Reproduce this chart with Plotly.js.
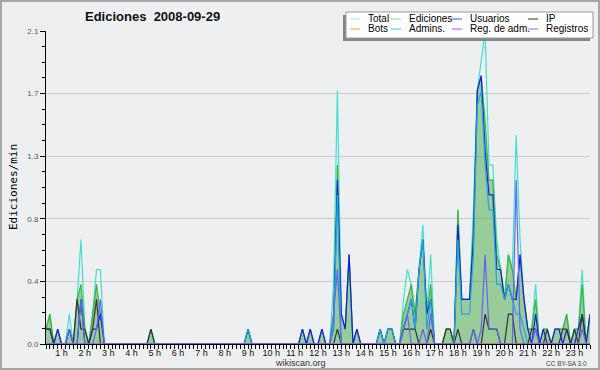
<!DOCTYPE html>
<html>
<head>
<meta charset="utf-8">
<script src="https://cdn.plot.ly/plotly-3.0.1.min.js"></script>
<style>
  html, body { margin: 0; padding: 0; background: #eeeff1; }
  #wrap { position: relative; width: 600px; height: 370px; overflow: hidden; }
  #chart { position: absolute; left: 0; top: 0; width: 600px; height: 370px; }
  #frame { position: absolute; left: 0; top: 0; width: 600px; height: 370px; box-sizing: border-box; border: 2px solid #a6a6a6; pointer-events: none; }
</style>
</head>
<body>
<div id="wrap"><div id="chart"></div><div id="frame"></div></div>
<script>
// ---- time axis (minutes of the day, 10-minute bins) ----
const minutes = [
  20,30,40,50,
  60,70,80,90,100,110,
  120,130,140,150,160,170,
  180,190,200,210,220,230,
  240,250,260,270,280,290,
  300,310,320,330,340,350,
  360,370,380,390,400,410,
  420,430,440,450,460,470,
  480,490,500,510,520,530,
  540,550,560,570,580,590,
  600,610,620,630,640,650,
  660,670,680,690,700,710,
  720,730,740,750,760,770,
  780,790,800,810,820,830,
  840,850,860,870,880,890,
  900,910,920,930,940,950,
  960,970,980,990,1000,1010,
  1020,1030,1040,1050,1060,1070,
  1080,1090,1100,1110,1120,1130,
  1140,1150,1160,1170,1180,1190,
  1200,1210,1220,1230,1240,1250,
  1260,1270,1280,1290,1300,1310,
  1320,1330,1340,1350,1360,1370,
  1380,1390,1400,1410,1420
];

// ---- series values (edits per minute) ----
const total = [
  .1,.2,0,.1,
  0,0,.2,0,.3,.7,
  .1,0,.2,.5,.5,0,
  0,0,0,0,0,0,
  0,0,0,0,0,.1,
  0,0,0,0,0,0,
  0,0,0,0,0,0,
  0,0,0,0,0,0,
  0,0,0,0,0,0,
  .1,0,0,0,0,0,
  0,0,0,0,0,0,
  0,0,.1,0,.1,0,
  0,.1,0,0,.4,1.7,
  .2,.1,.6,0,.1,0,
  0,0,0,0,.1,0,
  .1,.1,0,0,.3,.5,
  .4,.2,.5,.8,.2,.6,
  0,0,0,.1,.1,0,
  .9,.3,.3,.3,.9,1.7,
  1.9,2.1,1.2,1.2,.7,.5,
  .3,.6,.5,1.4,.7,.3,
  .1,.1,.4,0,.1,.1,
  0,.1,.1,.1,.2,0,
  .1,.1,.5,0,.2
];
const ediciones = [
  .1,.2,0,.1,
  0,0,.1,0,.3,.4,
  .1,0,.2,.4,.2,0,
  0,0,0,0,0,0,
  0,0,0,0,0,.1,
  0,0,0,0,0,0,
  0,0,0,0,0,0,
  0,0,0,0,0,0,
  0,0,0,0,0,0,
  .1,0,0,0,0,0,
  0,0,0,0,0,0,
  0,0,.1,0,.1,0,
  0,.1,0,0,.2,1.2,
  .2,.1,.6,0,.1,0,
  0,0,0,0,.1,0,
  .1,.1,0,0,.2,.3,
  .4,.2,.5,.7,.2,.4,
  0,0,0,.1,.1,0,
  .9,.3,.3,.3,.8,1.7,
  1.8,1.5,1.1,1.1,.6,.5,
  .3,.6,.5,.3,.6,.3,
  .1,.1,.3,0,.1,.1,
  0,.1,.1,.1,.2,0,
  .1,.1,.4,0,.2
];
const usuarios = [
  .1,.1,0,.1,
  0,0,.1,0,0,.3,
  0,0,.1,.1,.2,0,
  0,0,0,0,0,0,
  0,0,0,0,0,0,
  0,0,0,0,0,0,
  0,0,0,0,0,0,
  0,0,0,0,0,0,
  0,0,0,0,0,0,
  .1,0,0,0,0,0,
  0,0,0,0,0,0,
  0,0,.1,0,.1,0,
  0,.1,0,0,.1,1.1,
  .2,.1,.6,0,.1,0,
  0,0,0,0,.1,0,
  .1,.1,0,0,.1,.2,
  .3,.1,.5,.7,.2,.3,
  0,0,0,0,0,0,
  .8,.3,.3,.3,.7,1.7,
  1.8,1.3,1.0,1.0,.5,.5,
  .3,.4,.3,.3,.6,.3,
  .1,0,.2,0,.1,0,
  0,.1,.1,0,.1,0,
  0,.1,.2,0,.2
];
const ip = [
  .1,.1,0,0,
  0,0,0,0,.3,.1,
  .1,0,.1,.3,0,0,
  0,0,0,0,0,0,
  0,0,0,0,0,.1,
  0,0,0,0,0,0,
  0,0,0,0,0,0,
  0,0,0,0,0,0,
  0,0,0,0,0,0,
  0,0,0,0,0,0,
  0,0,0,0,0,0,
  0,0,0,0,0,0,
  0,0,0,0,0,.1,
  0,0,0,0,0,0,
  0,0,0,0,0,0,
  0,0,0,0,.1,.1,
  .1,.1,0,0,0,.1,
  0,0,0,.1,.1,0,
  .1,0,0,0,.1,0,
  0,.2,.1,.1,.1,0,
  0,.2,.2,0,0,0,
  0,.1,.1,0,0,.1,
  0,0,0,.1,.1,0,
  .1,0,.2,0,0
];
const bots = [
  0,0,0,0,
  0,0,0,0,0,0,
  0,0,0,0,0,0,
  0,0,0,0,0,0,
  0,0,0,0,0,0,
  0,0,0,0,0,0,
  0,0,0,0,0,0,
  0,0,0,0,0,0,
  0,0,0,0,0,0,
  0,0,0,0,0,0,
  0,0,0,0,0,0,
  0,0,0,0,0,0,
  0,0,0,0,0,0,
  0,0,0,0,0,0,
  0,0,0,0,0,0,
  0,0,0,0,0,0,
  0,0,0,0,0,0,
  0,0,0,0,0,0,
  0,0,0,0,0,0,
  0,0,0,0,0,0,
  0,0,0,0,0,0,
  0,0,0,0,0,0,
  0,0,0,0,0,0,
  0,0,0,0,0
];
const admins = [
  0,0,0,0,
  0,0,0,0,0,0,
  0,0,0,0,0,0,
  0,0,0,0,0,0,
  0,0,0,0,0,0,
  0,0,0,0,0,0,
  0,0,0,0,0,0,
  0,0,0,0,0,0,
  0,0,0,0,0,0,
  .1,0,0,0,0,0,
  0,0,0,0,0,0,
  0,0,0,0,0,0,
  0,0,0,0,.1,1.0,
  0,0,0,0,0,0,
  0,0,0,0,.1,0,
  .1,.1,0,0,.1,.2,
  .3,.1,.5,.7,.1,.3,
  0,0,0,0,0,0,
  .7,.2,.2,.2,.6,1.6,
  1.7,1.2,.9,.9,.4,.4,
  .3,.4,.3,.2,.2,.1,
  0,0,0,0,0,0,
  0,0,0,0,0,0,
  0,0,0,0,0
];
const regAdm = [
  0,0,0,0,
  0,0,0,0,0,0,
  0,0,0,0,0,0,
  0,0,0,0,0,0,
  0,0,0,0,0,0,
  0,0,0,0,0,0,
  0,0,0,0,0,0,
  0,0,0,0,0,0,
  0,0,0,0,0,0,
  0,0,0,0,0,0,
  0,0,0,0,0,0,
  0,0,0,0,0,0,
  0,0,0,0,0,0,
  0,0,0,0,0,0,
  0,0,0,0,0,0,
  0,0,0,0,0,0,
  0,0,0,0,0,0,
  0,0,0,0,0,0,
  0,0,0,0,0,0,
  0,0,0,0,0,0,
  0,0,0,0,0,0,
  0,0,0,0,0,0,
  0,0,0,0,0,0,
  0,0,0,0,0
];
const registros = [
  0,0,0,0,
  0,0,.1,0,0,.3,
  0,0,0,.1,.3,0,
  0,0,0,0,0,0,
  0,0,0,0,0,0,
  0,0,0,0,0,0,
  0,0,0,0,0,0,
  0,0,0,0,0,0,
  0,0,0,0,0,0,
  0,0,0,0,0,0,
  0,0,0,0,0,0,
  0,0,0,0,0,0,
  0,0,0,0,.2,.5,
  0,0,0,0,0,0,
  0,0,0,0,0,0,
  0,0,0,0,.1,.2,
  0,0,0,.1,0,.2,
  0,0,0,0,0,0,
  0,0,0,0,.1,0,
  .1,.6,.1,.1,.1,0,
  0,0,0,1.1,.1,0,
  0,0,.1,0,0,0,
  0,0,0,0,0,0,
  0,0,.1,0,0
];

// ---- labels ----
const seriesNames = ['Total','Ediciones','Usuarios','IP','Bots','Admins.','Reg. de adm.','Registros'];
const hourTicks = [60,120,180,240,300,360,420,480,540,600,660,720,780,840,900,960,1020,1080,1140,1200,1260,1320,1380];
const hourLabels = ['1 h','2 h','3 h','4 h','5 h','6 h','7 h','8 h','9 h','10 h','11 h','12 h','13 h','14 h','15 h','16 h','17 h','18 h','19 h','20 h','21 h','22 h','23 h'];
const yTickVals = [0, 0.42, 0.84, 1.26, 1.68, 2.1];
const yTickText = ['0.0','0.4','0.8','1.3','1.7','2.1'];
const chartTitle = 'Ediciones\u00a0 2008-09-29';
const yTitle = 'Ediciones/min';

// ---- styles ----
const seriesData = [total, ediciones, usuarios, ip, bots, admins, regAdm, registros];
const seriesColors = ['#40e0d0','#3cb43c','#1c1ce0','#333333','#ff9933','#1fa8e0','#cc33cc','#6464f0'];
const legendColors = ['#9fe6dc','#8fd48f','#4a4ad8','#333333','#ff9933','#44c4dc','#cc44d8','#7a7aee'];

const traces = seriesData.map((vals, i) => {
  const t = {
    x: minutes, y: vals, type: 'scatter', mode: 'lines',
    name: seriesNames[i],
    line: {color: seriesColors[i], width: 1.2},
    hoverinfo: 'skip', showlegend: false
  };
  if (i === 1) { t.fill = 'tozeroy'; t.fillcolor = 'rgba(60,165,60,0.48)'; }
  return t;
});

// pixel -> paper helpers (plot area 46..590 x, 31..344 y)
const PX = x => (x - 46) / 544;
const PY = y => (344 - y) / 313;

const shapes = [
  {type:'rect', xref:'paper', yref:'paper', x0:PX(343), x1:PX(590), y0:PY(41), y1:PY(15),
   fillcolor:'#858585', line:{width:0}, layer:'above'},
  {type:'rect', xref:'paper', yref:'paper', x0:PX(346), x1:PX(593), y0:PY(38), y1:PY(12),
   fillcolor:'#ffffff', line:{color:'#9a9a9a', width:1}, layer:'above'}
];
const annotations = [];
const colX = [367, 408, 469, 545];
const rowY = [19, 29];
seriesNames.forEach((n, i) => {
  const cx = colX[i % 4], cy = rowY[Math.floor(i / 4)];
  shapes.push({type:'line', xref:'paper', yref:'paper', x0:PX(cx - 17), x1:PX(cx - 7), y0:PY(cy), y1:PY(cy),
    line:{color: legendColors[i], width: 1}, layer:'above'});
  annotations.push({text: n, xref:'paper', yref:'paper', x:PX(cx - 1), y:PY(cy), xanchor:'left', yanchor:'middle',
    showarrow:false, font:{family:'Liberation Sans', size:10, color:'#000'}});
});
annotations.push({text: yTitle, xref:'paper', yref:'paper', x:PX(13), y:PY(187), xanchor:'center', yanchor:'middle',
  textangle:-90, showarrow:false, font:{family:'DejaVu Sans Mono', size:11, color:'#000'}});
annotations.push({text:'wikiscan.org', xref:'paper', yref:'paper', x:PX(300.5), y:PY(362.5), xanchor:'center', yanchor:'middle',
  showarrow:false, font:{family:'Liberation Sans', size:9, color:'#333'}});
annotations.push({text:'CC BY-SA 3.0', xref:'paper', yref:'paper', x:PX(589), y:PY(363.5), xanchor:'right', yanchor:'middle',
  showarrow:false, font:{family:'Liberation Sans', size:6.5, color:'#444'}});

const layout = {
  width: 600, height: 370,
  margin: {l:46, r:10, t:31, b:26, pad:0},
  paper_bgcolor: '#eeeff1', plot_bgcolor: '#eeeff1',
  title: {text: chartTitle, xref:'container', yref:'container', x: 85/600, xanchor:'left', y: 1 - 16/370, yanchor:'middle',
    font:{family:'Liberation Sans', size:13, color:'#111', weight:'bold'}},
  xaxis: {
    range: [20, 1420], tickmode:'array', tickvals: hourTicks, ticktext: hourLabels,
    ticks:'outside', ticklen:4, tickcolor:'#000', tickwidth:1, ticklabelstandoff:-4,
    tickfont:{family:'Liberation Sans', size:9, color:'#111'},
    showline:true, linecolor:'#000', linewidth:1, showgrid:false, zeroline:false, fixedrange:true,
    minor:{tickmode:'linear', tick0:0, dtick:10, ticks:'outside', ticklen:4, tickcolor:'#000', showgrid:false}
  },
  yaxis: {
    range: [0, 2.1], tickmode:'array', tickvals: yTickVals, ticktext: yTickText,
    ticks:'outside', ticklen:5, tickcolor:'#000', tickwidth:1,
    tickfont:{family:'Liberation Sans', size:8, color:'#555'},
    showline:true, linecolor:'#000', linewidth:1, showgrid:true, gridcolor:'#cbcbcb', gridwidth:1,
    zeroline:false, fixedrange:true,
    minor:{tickmode:'linear', tick0:0, dtick:0.105, ticks:'outside', ticklen:3, tickcolor:'#000', showgrid:false}
  },
  shapes: shapes,
  annotations: annotations,
  showlegend: false
};

Plotly.newPlot('chart', traces, layout, {staticPlot:true, displayModeBar:false});
</script>
</body>
</html>
